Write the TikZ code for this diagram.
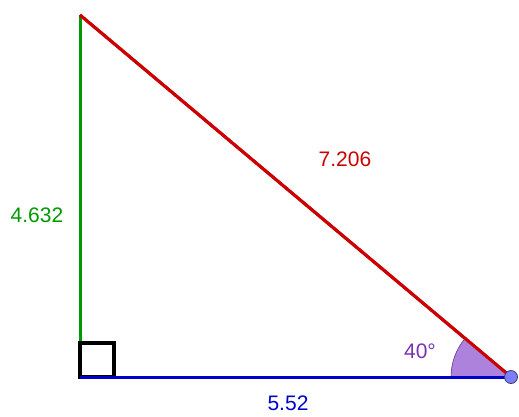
\documentclass[tikz,border=0pt]{standalone}
\usepackage{fontspec}
\setmainfont{Liberation Sans}
\usetikzlibrary{positioning}

\definecolor{sidegreen}{RGB}{0,153,0}
\definecolor{sidered}{RGB}{204,0,0}
\definecolor{sideblue}{RGB}{0,0,204}
\definecolor{anglefill}{RGB}{172,130,220}
\definecolor{angleline}{RGB}{102,51,153}
\definecolor{anglelabel}{RGB}{120,50,180}
\definecolor{dotfill}{RGB}{125,125,255}
\definecolor{dotline}{RGB}{60,60,100}

\begin{document}
\begin{tikzpicture}[
x=1pt, y=-1pt,
side/.style={line width=3pt},
lbl/.style={font=\fontsize{21}{25}\selectfont, inner sep=0pt},
marker/.style={draw=black, line width=3.4pt}
]
\useasboundingbox (0,0) rectangle (519,416);

\coordinate (top) at (80,15);
\coordinate (corner) at (80,377);
\coordinate (tip) at (511,377);

\draw[side, sidegreen] (corner) -- (top);
\draw[side, sidered] (top) -- (tip);
\draw[side, sideblue] (corner) -- (tip);

\draw[marker] (corner) rectangle ++(34,-34);

\fill[anglefill] (tip) -- ++(180:60) arc[start angle=180, end angle=220.15, radius=60] -- cycle;
\draw[angleline, line width=0.6pt] (tip) ++(180:60) arc[start angle=180, end angle=220.15, radius=60];
\draw[side, sidered] (top) -- (tip);
\draw[side, sideblue] (corner) -- (tip);

\node[circle, fill=dotfill, draw=dotline, line width=0.8pt, minimum size=13pt, inner sep=0pt] (tipdot) at (tip) {};

\node[lbl, text=sidegreen] (lenleg) at (37,215) {4.632};
\node[lbl, text=sidered] (lenhyp) at (345,159) {7.206};
\node[lbl, text=sideblue] (lenbase) at (288,403) {5.52};
\node[lbl, text=anglelabel] (angval) at (420,351) {40°};

\end{tikzpicture}
\end{document}
